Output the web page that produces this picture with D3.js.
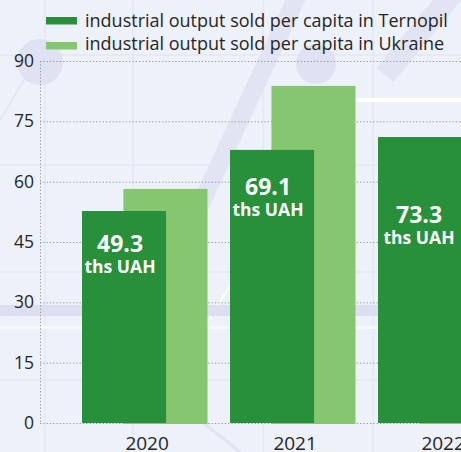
<!DOCTYPE html>
<html lang="en">
	<head>
		<meta charset="utf-8">
		<title>Industrial output sold per capita</title>
		<script type="text/javascript" src="https://cdn.jsdelivr.net/npm/d3@7"></script>
		<style type="text/css">
body {
  margin: 0;
  background: #edf1fa;
  font-family: "Open Sans", sans-serif;
}
.tick_label {
  font-size: 17.5px;
  fill: #262626;
}
.year_label {
  font-size: 19px;
  fill: #262626;
}
.legend_label {
  font-size: 18px;
  fill: #262626;
}
.value_label {
  font-weight: bold;
  fill: #ffffff;
}
.grid line {
  stroke: #999;
  stroke-width: 1;
  stroke-dasharray: 1.3,2;
}
		</style>
	</head>
	<body>
		<script type="text/javascript">

			var years = ["2020", "2021", "2022"];
			var ternopil = [52.7, 67.9, 71.1];     // bar heights as drawn
			var ukraine = [58.2, 83.8, 68.0];      // 2022 is hidden behind the Ternopil bar
			var valueLabels = ["49.3", "69.1", "73.3"];
			var unitLabel = "ths UAH";
			var yTicks = [0, 15, 30, 45, 60, 75, 90];
			var seriesNames = [
				"industrial output sold per capita in Ternopil",
				"industrial output sold per capita in Ukraine"
			];

			var colors = {ternopil: "#28903a", ukraine: "#86c66e"};

			var W = 461, H = 452;
			var labelDrop = [41, 45, 86]; // value label baseline below bar top

			var svg = d3.select("body")
				.append("svg")
					.attr("width", W)
					.attr("height", H);

			// ---------------- background decoration ----------------
			var bg = svg.append("g");
			bg.append("rect").attr("width", W).attr("height", H).attr("fill", "#edf1fa");
			[45, 133, 263, 373].forEach(function(x) {
				bg.append("line").attr("x1", x).attr("x2", x).attr("y1", 0).attr("y2", H)
					.attr("stroke", "#e2e7f4").attr("stroke-width", 1.5);
			});
			[55, 165, 272, 380].forEach(function(y) {
				bg.append("line").attr("x1", 0).attr("x2", W).attr("y1", y).attr("y2", y)
					.attr("stroke", "#e2e7f4").attr("stroke-width", 1.5);
			});
			bg.append("path").attr("d", "M175,260 L300,-10").attr("stroke", "#e1e4f3")
				.attr("stroke-width", 18).attr("fill", "none");
			bg.append("path").attr("d", "M385,75 L455,-10").attr("stroke", "#e1e4f3")
				.attr("stroke-width", 22).attr("fill", "none");
			bg.append("path").attr("d", "M0,120 L30,70").attr("stroke", "#e1e4f3")
				.attr("stroke-width", 1.5).attr("fill", "none");
			bg.append("path").attr("d", "M190,350 L240,270").attr("stroke", "#ffffff")
				.attr("stroke-width", 2).attr("fill", "none");
			bg.append("path").attr("d", "M200,420 L240,452").attr("stroke", "#e1e4f3")
				.attr("stroke-width", 3).attr("fill", "none");
			bg.append("circle").attr("cx", 40).attr("cy", 62).attr("r", 23).attr("fill", "#dfe2f2");
			bg.append("circle").attr("cx", 316).attr("cy", 64).attr("r", 20).attr("fill", "#dfe2f2");
			bg.append("rect").attr("x", 0).attr("y", 305).attr("width", W).attr("height", 11).attr("fill", "#dcdff0");
			bg.append("rect").attr("x", 0).attr("y", 326).attr("width", W).attr("height", 3).attr("fill", "#f7f9fd");
			bg.append("rect").attr("x", 300).attr("y", 98).attr("width", 161).attr("height", 4).attr("fill", "#ffffff");

			// ---------------- scales ----------------
			var yScale = d3.scaleLinear()
				.domain([0, 90])
				.range([423, 61]);

			var xScale = d3.scaleBand()
				.domain(years)
				.range([82, 82 + 148 * years.length])
				.paddingInner(0)
				.paddingOuter(0);

			var barW = xScale.bandwidth() * 0.568;
			var shift = xScale.bandwidth() * 0.28;

			// grid lines
			var grid = svg.append("g").attr("class", "grid");
			grid.selectAll("line.h")
				.data(yTicks)
				.enter()
				.append("line")
					.attr("class", "h")
					.attr("x1", 40)
					.attr("x2", W)
					.attr("y1", function(d) { return yScale(d) + 0.5; })
					.attr("y2", function(d) { return yScale(d) + 0.5; });
			grid.append("line")
				.attr("x1", 40.5).attr("x2", 40.5)
				.attr("y1", yScale(90)).attr("y2", yScale(0) + 1);

			// y axis labels
			svg.selectAll(".tick_label")
				.data(yTicks)
				.enter()
				.append("text")
					.attr("class", "tick_label")
					.attr("x", 34)
					.attr("y", function(d) { return yScale(d) + 6; })
					.attr("text-anchor", "end")
					.text(function(d) { return d; });

			// Ukraine bars (behind)
			svg.selectAll(".bar_ua")
				.data(ukraine)
				.enter()
				.append("rect")
					.attr("class", "bar_ua")
					.attr("x", function(d, i) { return xScale(years[i]) + shift; })
					.attr("y", function(d) { return yScale(d); })
					.attr("width", barW)
					.attr("height", function(d) { return yScale(0) + 1 - yScale(d); })
					.attr("fill", colors.ukraine);

			// Ternopil bars
			svg.selectAll(".bar_te")
				.data(ternopil)
				.enter()
				.append("rect")
					.attr("class", "bar_te")
					.attr("x", function(d, i) { return xScale(years[i]); })
					.attr("y", function(d) { return yScale(d); })
					.attr("width", barW)
					.attr("height", function(d) { return yScale(0) - yScale(d); })
					.attr("fill", colors.ternopil);

			// value labels inside Ternopil bars
			ternopil.forEach(function(d, i) {
				var cx = xScale(years[i]) + barW / 2 - (i < 2 ? 4 : 1);
				var yb = yScale(d) + labelDrop[i];
				svg.append("text")
					.attr("class", "value_label")
					.attr("x", cx)
					.attr("y", yb)
					.attr("text-anchor", "middle")
					.style("font-size", "23px")
					.text(valueLabels[i]);
				svg.append("text")
					.attr("class", "value_label")
					.attr("x", cx)
					.attr("y", yb + 21)
					.attr("text-anchor", "middle")
					.style("font-size", "17.5px")
					.text(unitLabel);
			});

			// x axis labels
			svg.selectAll(".year_label")
				.data(years)
				.enter()
				.append("text")
					.attr("class", "year_label")
					.attr("x", function(d) { return xScale(d) + xScale.bandwidth() * 0.44; })
					.attr("y", 450)
					.attr("text-anchor", "middle")
					.text(function(d) { return d; });

			// legend
			var legend = svg.append("g");
			legend.selectAll("rect")
				.data(seriesNames)
				.enter()
				.append("rect")
					.attr("x", 46)
					.attr("y", function(d, i) { return 17 + i * 25; })
					.attr("width", 31)
					.attr("height", 7.5)
					.attr("fill", function(d, i) { return i === 0 ? colors.ternopil : colors.ukraine; });
			legend.selectAll("text")
				.data(seriesNames)
				.enter()
				.append("text")
					.attr("class", "legend_label")
					.attr("x", 85)
					.attr("y", function(d, i) { return 27 + i * 23; })
					.text(function(d) { return d; });

		</script>
	</body>
</html>
